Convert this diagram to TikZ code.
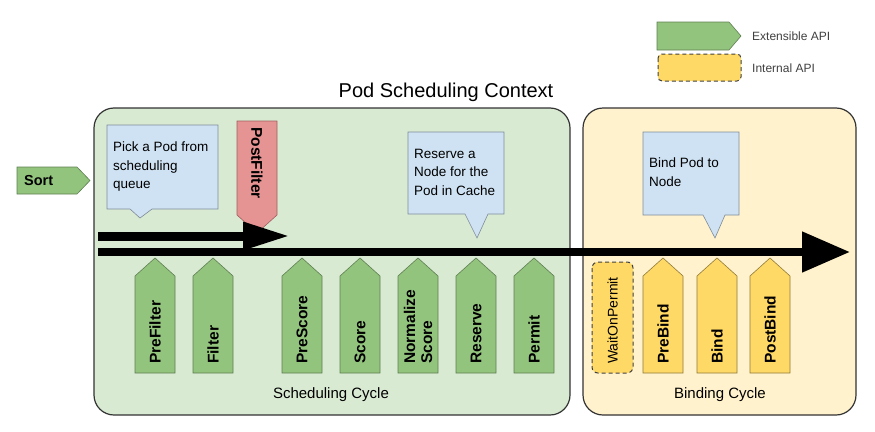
\documentclass[tikz,border=0pt]{standalone}
\usepackage{fontspec}
\setmainfont{Liberation Sans}
\usetikzlibrary{arrows.meta}
\definecolor{ctxgreen}{HTML}{D9EAD3}
\definecolor{ctxyellow}{HTML}{FFF2CC}
\definecolor{extgreen}{HTML}{93C47D}
\definecolor{extedge}{HTML}{5E7F52}
\definecolor{intyellow}{HTML}{FFD966}
\definecolor{intedge}{HTML}{8F7A3A}
\definecolor{pfred}{HTML}{E69393}
\definecolor{pfedge}{HTML}{9E5E5E}
\definecolor{callblue}{HTML}{CFE2F3}
\definecolor{calledge}{HTML}{7F8C99}
\newcommand\extup[4]{%
  \draw[#3] (#2,373) -- (#2,276) -- ({#2+20},258) -- ({#2+40},276) -- ({#2+40},373) -- cycle;
  \node[vlab] (#1) at ({#2+20},364) {#4};}
\begin{document}
\begin{tikzpicture}[x=1pt,y=-1pt,
  ctx/.style={draw=black!80, line width=1.2pt, rounded corners=20pt},
  ext/.style={fill=extgreen, draw=extedge, line width=0.6pt},
  intl/.style={fill=intyellow, draw=intedge, line width=0.6pt},
  pf/.style={fill=pfred, draw=pfedge, line width=0.6pt},
  callout/.style={fill=callblue, draw=calledge, line width=0.6pt},
  vlab/.style={rotate=90, anchor=west, inner sep=0pt, align=left,
    font=\fontsize{15.5}{17}\selectfont\bfseries},
  calltext/.style={anchor=north west, inner sep=0pt, align=left,
    font=\fontsize{13.5}{18.5}\selectfont},
  cyclab/.style={anchor=base, inner sep=0pt, font=\fontsize{15}{18}\selectfont},
  legtext/.style={anchor=west, inner sep=0pt, text=black!75, font=\fontsize{12}{14}\selectfont},
  bigarrow/.style={draw=black}
]
\useasboundingbox (0,0) rectangle (875,431);

% legend
\draw[ext] (657,22) -- (729,22) -- (741,36) -- (729,50) -- (657,50) -- cycle;
\node[legtext] (legext) at (752,36) {Extensible API};
\draw[intl, dashed, line width=1pt, draw=black!75, dash pattern=on 4pt off 3pt, rounded corners=4pt] (658,54) rectangle (741,81);
\node[legtext] (legint) at (752,68) {Internal API};

% title
\node[anchor=base, inner sep=0pt, font=\fontsize{20}{24}\selectfont] (title) at (446,97) {Pod Scheduling Context};

% context boxes
\draw[ctx, fill=ctxgreen] (94,108) rectangle (570,415);
\draw[ctx, fill=ctxyellow] (583,108) rectangle (856,415);

% Sort
\draw[ext] (17,167) -- (77,167) -- (90,180.5) -- (77,194) -- (17,194) -- cycle;
\node[anchor=west, inner sep=0pt, font=\fontsize{14.5}{16}\selectfont\bfseries] (sort) at (24,180.5) {Sort};

% callouts
\draw[callout] (107,125) -- (218,125) -- (218,209) -- (152,209) -- (140,218) -- (130,209) -- (107,209) -- cycle;
\node[calltext] (pick) at (113,142) {Pick a Pod from\\scheduling\\queue};
\draw[callout] (408,132) -- (504,132) -- (504,214) -- (488,214) -- (477,238) -- (465,214) -- (408,214) -- cycle;
\node[calltext] (reserve) at (414,149) {Reserve a\\Node for the\\Pod in Cache};
\draw[callout] (643,132) -- (739,132) -- (739,215) -- (725,215) -- (715,238) -- (703,215) -- (643,215) -- cycle;
\node[calltext] (bindpod) at (649,158) {Bind Pod to\\Node};

% PostFilter
\draw[pf] (237,121) -- (277,121) -- (277,215) -- (257,233) -- (237,215) -- cycle;
\node[vlab, rotate=180] (postfilter) at (257,127) {PostFilter};

% flow arrows
\coordinate (s1) at (98,236);
\coordinate (e1) at (290,236);
\draw[bigarrow, line width=9pt, -{Triangle[length=47pt,width=26pt]}] (s1) -- (e1);
\coordinate (s2) at (98,252);
\coordinate (e2) at (850,252);
\draw[bigarrow, line width=8pt, -{Triangle[length=48pt,width=39pt]}] (s2) -- (e2);

% scheduling cycle plugins
\extup{prefilter}{135}{ext}{PreFilter}
\extup{filter}{193}{ext}{Filter}
\extup{prescore}{282}{ext}{PreScore}
\extup{score}{340}{ext}{Score}
\extup{normscore}{398}{ext}{Normalize\\Score}
\extup{reserveext}{456}{ext}{Reserve}
\extup{permit}{514}{ext}{Permit}

% binding cycle plugins
\draw[intl, line width=1pt, draw=black!75, dash pattern=on 4pt off 3pt, rounded corners=6pt] (592,262) rectangle (633,373);
\node[vlab, font=\fontsize{14}{16}\selectfont] (wait) at (612.5,364) {WaitOnPermit};
\extup{prebind}{643}{intl}{PreBind}
\extup{bind}{697}{intl}{Bind}
\extup{postbind}{750}{intl}{PostBind}

% cycle labels
\node[cyclab] (schedcycle) at (331,398) {Scheduling Cycle};
\node[cyclab] (bindcycle) at (720,398) {Binding Cycle};
\end{tikzpicture}
\end{document}
